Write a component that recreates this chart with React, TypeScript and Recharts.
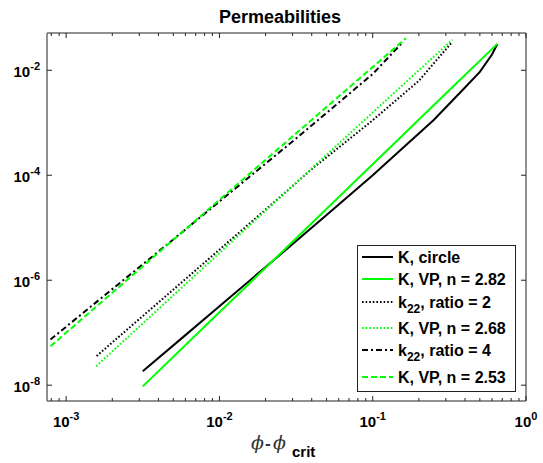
import { LineChart, Line, XAxis, YAxis, Legend } from 'recharts'

const FONT = '"Liberation Sans", Arial, Helvetica, sans-serif'
const GREEN = '#00ff00'

// axis ticks (log scale)
const xTicks = [
  8e-4, 9e-4,
  1e-3, 2e-3, 3e-3, 4e-3, 5e-3, 6e-3, 7e-3, 8e-3, 9e-3,
  1e-2, 2e-2, 3e-2, 4e-2, 5e-2, 6e-2, 7e-2, 8e-2, 9e-2,
  1e-1, 2e-1, 3e-1, 4e-1, 5e-1, 6e-1, 7e-1, 8e-1, 9e-1,
  1,
]
const yTicks = [1e-8, 1e-6, 1e-4, 1e-2]

// K, circle
const circleX = [0.00316, 0.006, 0.01, 0.0214, 0.05, 0.1, 0.25, 0.4, 0.5, 0.6, 0.65]
const circleY = [1.84e-8, 9.0e-8, 3.2e-7, 2.1e-6, 1.75e-5, 1.0e-4, 1.13e-3, 4.7e-3, 9.3e-3, 0.02, 0.0316]

// K, VP, n = 2.82
const vp282X = [0.00316, 0.01, 0.03, 0.1, 0.3, 0.65]
const vp282Y = [9.5e-9, 2.45e-7, 5.4e-6, 1.62e-4, 3.6e-3, 0.0318]

// k22, ratio = 2
const ratio2X = [0.00158, 0.003, 0.006, 0.012, 0.025, 0.035, 0.042, 0.05, 0.1, 0.2, 0.33]
const ratio2Y = [3.6e-8, 1.82e-7, 1.05e-6, 6.07e-6, 3.9e-5, 9.3e-5, 1.48e-4, 2.2e-4, 1.12e-3, 6.3e-3, 0.0347]

// K, VP, n = 2.68
const vp268X = [0.00157, 0.01, 0.1, 0.33]
const vp268Y = [2.3e-8, 3.3e-6, 1.57e-3, 0.038]

// k22, ratio = 4
const ratio4X = [0.00079, 0.0014, 0.0025, 0.005, 0.01, 0.0316, 0.1, 0.158]
const ratio4Y = [7.4e-8, 2.9e-7, 1.15e-6, 5.97e-6, 3.16e-5, 5.0e-4, 8.5e-3, 0.035]

// K, VP, n = 2.53
const vp253X = [0.00079, 0.01, 0.165]
const vp253Y = [5.5e-8, 3.4e-5, 0.0409]

const zip = (xs: number[], ys: number[]) => xs.map((x, i) => ({ x, y: ys[i] }))

const series = [
  { name: 'K, circle', sub: '', data: zip(circleX, circleY), color: '#000', dash: undefined },
  { name: 'K, VP, n = 2.82', sub: '', data: zip(vp282X, vp282Y), color: GREEN, dash: undefined },
  { name: ', ratio = 2', sub: '22', data: zip(ratio2X, ratio2Y), color: '#000', dash: '1.6 2' },
  { name: 'K, VP, n = 2.68', sub: '', data: zip(vp268X, vp268Y), color: GREEN, dash: '1.6 2' },
  { name: ', ratio = 4', sub: '22', data: zip(ratio4X, ratio4Y), color: '#000', dash: '6 3 2 3' },
  { name: 'K, VP, n = 2.53', sub: '', data: zip(vp253X, vp253Y), color: GREEN, dash: '6 3' },
]

const AXIS = '#6b6b6b'

const isMajor = (v: number) => {
  const l = Math.log10(v)
  return Math.abs(l - Math.round(l)) < 1e-6
}

function XTick({ x, y, payload, top }: any) {
  const v = payload.value
  const major = isMajor(v)
  const len = major ? 5 : 3
  const dir = top ? 1 : -1
  return (
    <g>
      <line x1={x} x2={x} y1={y} y2={y + dir * len} stroke="#222" strokeWidth={1} />
      {major && !top && (
        <text x={x} y={y + 26} textAnchor="middle" fontFamily={FONT} fontWeight="bold" fontSize={15} fill="#000">
          10<tspan dy={-7} fontSize={11}>{Math.round(Math.log10(v))}</tspan>
        </text>
      )}
    </g>
  )
}

function YTick({ x, y, payload, right }: any) {
  const v = payload.value
  const dir = right ? -1 : 1
  return (
    <g>
      <line x1={x} x2={x + dir * 5} y1={y} y2={y} stroke="#222" strokeWidth={1} />
      {!right && (
        <text x={x - 7} y={y + 7} textAnchor="end" fontFamily={FONT} fontWeight="bold" fontSize={15} fill="#000">
          10<tspan dy={-7} fontSize={11}>{Math.round(Math.log10(v))}</tspan>
        </text>
      )}
    </g>
  )
}

const rowY = [12, 34, 57, 83, 105, 132]

function LegendBox() {
  return (
    <svg width={159} height={147} style={{ display: 'block' }}>
      <rect x={0.5} y={0.5} width={158} height={146} fill="#fff" stroke="#222" strokeWidth={1} />
      {series.map((s, i) => (
        <g key={s.name + i}>
          <line x1={5} x2={36} y1={rowY[i]} y2={rowY[i]} stroke={s.color} strokeWidth={2} strokeDasharray={s.dash} />
          <text x={41} y={rowY[i] + 5.5} fontFamily={FONT} fontWeight="bold" fontSize={16} fill="#000">
            {s.sub ? (
              <>
                k<tspan dy={5} fontSize={12}>{s.sub}</tspan>
                <tspan dy={-5}>{s.name}</tspan>
              </>
            ) : (
              s.name
            )}
          </text>
        </g>
      ))}
    </svg>
  )
}

export default function App() {
  const xDomain = [7.5e-4, 1]
  const yDomain = [5.0e-9, 0.0513]
  return (
    <div style={{ position: 'absolute', left: 0, top: 0, width: 543, height: 463, background: '#fff' }}>
      <LineChart width={543} height={463} margin={{ top: 32, right: 16, bottom: 61, left: 46 }}>
        <XAxis
          xAxisId="b"
          dataKey="x"
          type="number"
          scale="log"
          domain={xDomain}
          allowDataOverflow
          ticks={xTicks}
          interval={0}
          height={1}
          tickSize={0}
          tickMargin={0}
          tickLine={false}
          axisLine={{ stroke: AXIS, strokeWidth: 1.5 }}
          tick={<XTick />}
        />
        <XAxis
          xAxisId="t"
          orientation="top"
          dataKey="x"
          type="number"
          scale="log"
          domain={xDomain}
          allowDataOverflow
          ticks={xTicks}
          interval={0}
          height={1}
          tickSize={0}
          tickMargin={0}
          tickLine={false}
          axisLine={{ stroke: AXIS, strokeWidth: 1.5 }}
          tick={<XTick top />}
        />
        <YAxis
          yAxisId="l"
          dataKey="y"
          type="number"
          scale="log"
          domain={yDomain}
          allowDataOverflow
          ticks={yTicks}
          interval={0}
          width={1}
          tickSize={0}
          tickMargin={0}
          tickLine={false}
          axisLine={{ stroke: AXIS, strokeWidth: 1.5 }}
          tick={<YTick />}
        />
        <YAxis
          yAxisId="r"
          orientation="right"
          dataKey="y"
          type="number"
          scale="log"
          domain={yDomain}
          allowDataOverflow
          ticks={yTicks}
          interval={0}
          width={1}
          tickSize={0}
          tickMargin={0}
          tickLine={false}
          axisLine={{ stroke: AXIS, strokeWidth: 1.5 }}
          tick={<YTick right />}
        />
        {series.map((s, i) => (
          <Line
            key={i}
            xAxisId="b"
            yAxisId="l"
            data={s.data}
            dataKey="y"
            name={s.name}
            type="linear"
            stroke={s.color}
            strokeWidth={2}
            strokeDasharray={s.dash}
            dot={false}
            activeDot={false}
            isAnimationActive={false}
          />
        ))}
        <Legend
          layout="vertical"
          align="center"
          verticalAlign="middle"
          content={() => <LegendBox />}
          wrapperStyle={{ left: 357, top: 245, width: 159, height: 147 }}
        />
      </LineChart>
      <svg width={543} height={463} style={{ position: 'absolute', left: 0, top: 0, pointerEvents: 'none' }}>
        <text x={280} y={23} textAnchor="middle" fontFamily={FONT} fontWeight="bold" fontSize={18} fill="#000">
          Permeabilities
        </text>
        <text y={449} fontSize={19} fill="#333">
          <tspan x={251} fontFamily='"DejaVu Serif", serif' fontStyle="italic">ϕ</tspan>
          <tspan x={265} fontFamily={FONT} fontWeight="bold" fontSize={17}>-</tspan>
          <tspan x={273} fontFamily='"DejaVu Serif", serif' fontStyle="italic">ϕ</tspan>
          <tspan x={292} fontFamily={FONT} fontWeight="bold" fontSize={15} fill="#000" dy={8}>crit</tspan>
        </text>
      </svg>
    </div>
  )
}
